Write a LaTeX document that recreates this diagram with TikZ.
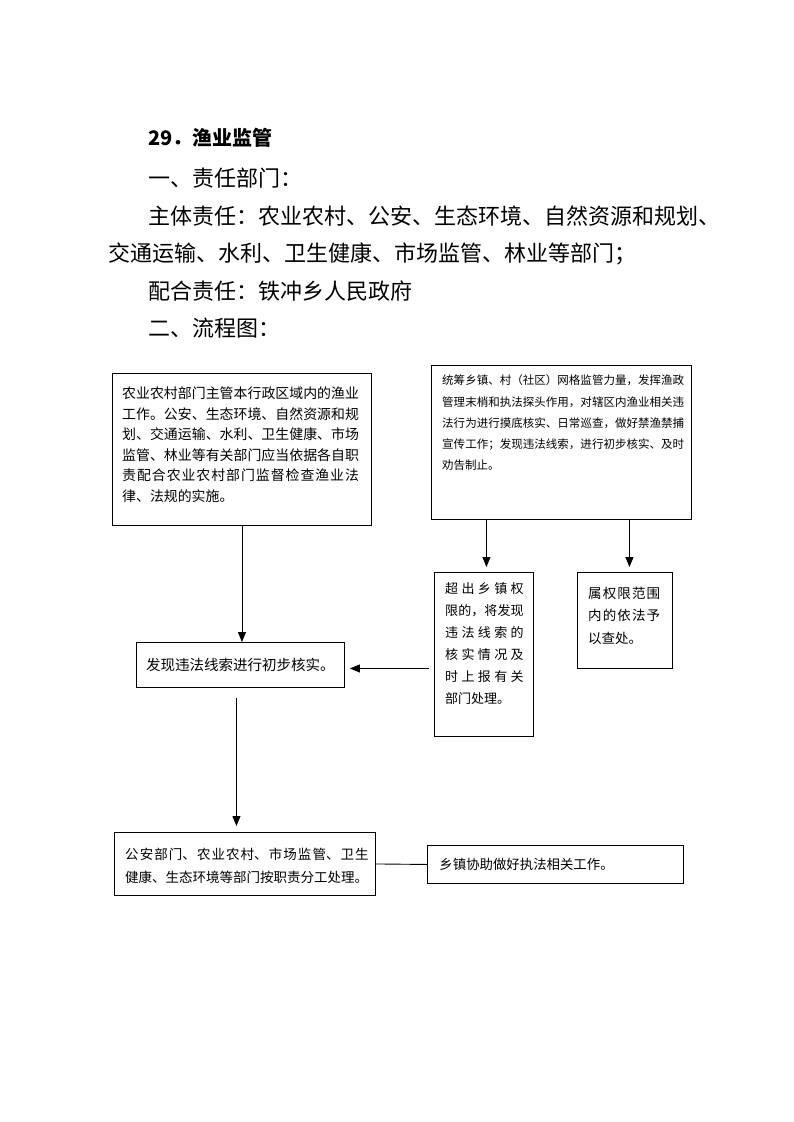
\documentclass[tikz,border=0pt]{standalone}
\usepackage{fontspec}
\setmainfont{Noto Sans CJK SC}
\usetikzlibrary{arrows.meta,calc}
\XeTeXlinebreaklocale "zh"
\XeTeXlinebreakskip=0pt plus 1pt minus 0.5pt
\begin{document}
\begin{tikzpicture}[x=1pt,y=1pt,
  box/.style={draw=black, line width=0.9pt, inner sep=0pt, anchor=north west},
  txt/.style={inner sep=0pt, anchor=north west, align=justify},
  arr/.style={line width=0.9pt, -{Triangle[width=8pt,length=10pt]}},
  body/.style={inner sep=0pt, anchor=west, font=\fontsize{22}{26}\selectfont}]
\useasboundingbox[fill=white] (0,0) rectangle (793,-1122);

% heading text
\node[body, font=\fontsize{20}{24}\selectfont\bfseries] (title) at (148,-138) {29．渔业监管};
\node[body] (h1) at (148,-178) {一、责任部门：};
\node[body] (p1) at (148,-216) {主体责任：农业农村、公安、生态环境、自然资源和规划、};
\node[body] (p2) at (108,-254) {交通运输、水利、卫生健康、市场监管、林业等部门；};
\node[body] (p3) at (148,-291) {配合责任：铁冲乡人民政府};
\node[body] (h2) at (148,-328) {二、流程图：};

% boxes
\node[box, minimum width=259, minimum height=152] (A) at (112,-373) {};
\node[txt, text width=236.8, font=\fontsize{13.9}{20.6}\selectfont] (Atext) at (122,-386.6)
  {农业农村部门主管本行政区域内的渔业\linebreak
   工作。公安、生态环境、自然资源和规\linebreak
   划、交通运输、水利、卫生健康、市场\linebreak
   监管、林业等有关部门应当依据各自职\linebreak
   责配合农业农村部门监督检查渔业法\linebreak
   律、法规的实施。};

\node[box, minimum width=260, minimum height=154] (B) at (431,-365) {};
\node[txt, text width=242, font=\fontsize{11.5}{21.3}\selectfont] (Btext) at (442,-374.7)
  {统筹乡镇、村（社区）网格监管力量，发挥渔政\linebreak
   管理末梢和执法探头作用，对辖区内渔业相关违\linebreak
   法行为进行摸底核实、日常巡查，做好禁渔禁捕\linebreak
   宣传工作；发现违法线索，进行初步核实、及时\linebreak
   劝告制止。};

\node[box, minimum width=99, minimum height=164] (C) at (434,-572) {};
\node[txt, text width=78.5, font=\fontsize{13}{22}\selectfont] (Ctext) at (445,-582)
  {超出乡镇权\linebreak
   限的，将发现\linebreak
   违法线索的\linebreak
   核实情况及\linebreak
   时上报有关\linebreak
   部门处理。};

\node[box, minimum width=95, minimum height=96] (D) at (577,-572) {};
\node[txt, text width=72, font=\fontsize{13.5}{22.5}\selectfont] (Dtext) at (588,-586.8)
  {属权限范围\linebreak
   内的依法予\linebreak
   以查处。};

\node[box, minimum width=208, minimum height=45, font=\fontsize{14.5}{18}\selectfont] (E) at (136,-642)
  {发现违法线索进行初步核实。};

\node[box, minimum width=261, minimum height=63] (F) at (114,-832) {};
\node[txt, text width=243.5, font=\fontsize{13.5}{23}\selectfont] (Ftext) at (125,-847.8)
  {公安部门、农业农村、市场监管、卫生\linebreak
   健康、生态环境等部门按职责分工处理。};

\node[box, minimum width=256, minimum height=38, inner xsep=12pt, text width=232, align=left,
      font=\fontsize{13.4}{18}\selectfont] (G) at (427,-845)
  {乡镇协助做好执法相关工作。};

% connectors
\draw[arr] (A.south) -- (A.south |- E.north);
\draw[arr] ([xshift=2.5pt]C.north |- B.south) -- ([xshift=2.5pt,yshift=5pt]C.north);
\draw[arr] ([xshift=4.5pt]D.north |- B.south) -- ([xshift=4.5pt,yshift=5pt]D.north);
\path ([xshift=-5pt,yshift=-3.5pt]C.west |- E.east) coordinate (c1)
      ([xshift=5pt,yshift=-3.5pt]E.east) coordinate (e2);
\draw[arr] (c1) -- (e2);
\path ([xshift=-4pt,yshift=-10pt]E.south) coordinate (e1)
      ([yshift=6pt]F.north) coordinate (f1);
\draw[arr] (e1) -- (e1 |- f1);
\draw[line width=0.9pt] (F.east) -- (G.west);
\end{tikzpicture}
\end{document}
